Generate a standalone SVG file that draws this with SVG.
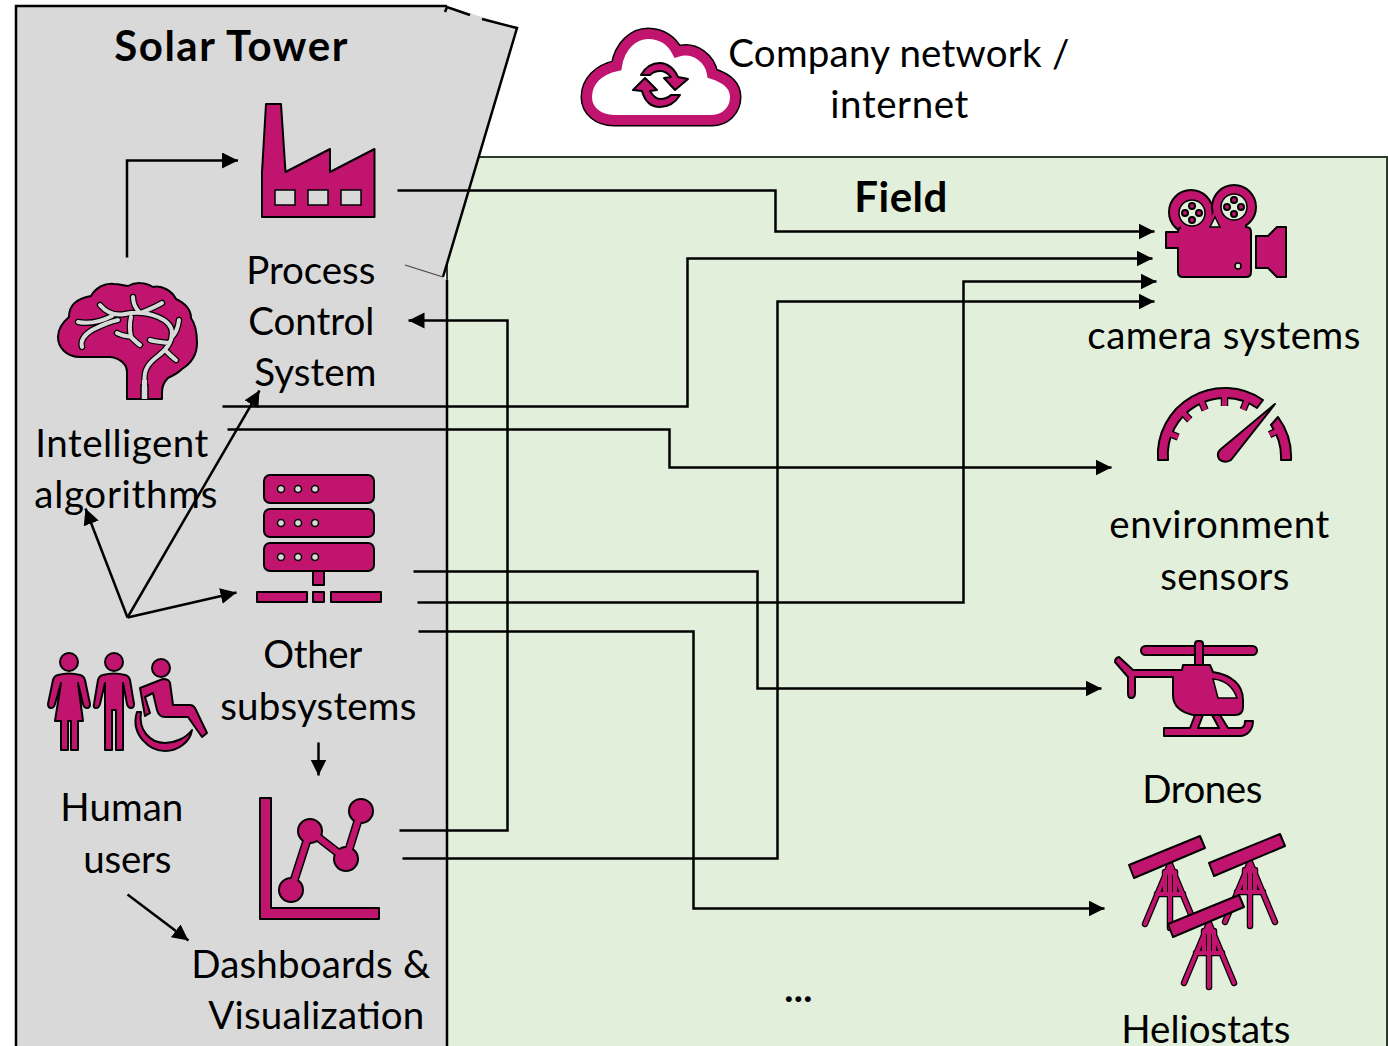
<svg xmlns="http://www.w3.org/2000/svg" width="1388" height="1046" viewBox="0 0 1388 1046">
<style>
.t{font-family:"Lato","Carlito","Liberation Sans",sans-serif;font-size:38.500px;fill:#000;transform:translate(-0.7px,0.8px)}
.b{font-weight:700;font-size:42px}
.i{fill:#C0146E;stroke:#000;stroke-width:2;stroke-linejoin:round}
.l{fill:#D9D9D9;stroke:#000;stroke-width:1.5}
.g{fill:#E2EFDA;stroke:#000;stroke-width:1.5}
.c{fill:none;stroke:#000;stroke-width:2.5}
.vb{fill:none;stroke:#000;stroke-width:6.500;stroke-linecap:round;stroke-linejoin:round}
.vg{fill:none;stroke:#D9D9D9;stroke-width:4;stroke-linecap:round;stroke-linejoin:round}
</style>
<defs>
<marker id="a" markerUnits="userSpaceOnUse" markerWidth="18" markerHeight="18" refX="16" refY="8" orient="auto"><path d="M0,0L16,8L0,16Z" fill="#000"/></marker>
<g id="helio">
<path d="M0,0L-25,60M0,0L25,60M0,0L0,64M-13,30L13,30M-5,8L-5,30M5,8L5,30" fill="none" stroke="#000" stroke-width="6.500" stroke-linecap="round"/>
<path d="M0,0L-25,60M0,0L25,60M0,0L0,64M-13,30L13,30M-5,8L-5,30M5,8L5,30" fill="none" stroke="#C0146E" stroke-width="4" stroke-linecap="round"/>
<path class="i" d="M-41,1L30,-28L35,-16L-36,14Z"/>
</g>
<path id="veins" d="M144.500,396V378C144.500,368 150,362 158,356C166,350 172,342 172,333C172,325 165,320 158,317C148,313 135,312 125,314C115,316 106,312 100,305M78,322C88,324 100,322 112,316M82,347C80,340 84,335 92,330C100,326 108,322 118,320M133,297C133,305 137,310 140,313C148,310 155,307 162,303M131,317C129,325 130,332 131,337C134,340 137,343 140,345M117,333C122,336 127,336 131,337M179,320C178,328 176,333 172,337M150,340C156,342 163,342 169,343M165,350C169,354 172,357 176,360"/>
<path id="ticks" d="M1169,433.300L1178.200,437.100M1183,412.700L1189.800,419.900M1201.200,400.700L1205.100,410M1224.500,396V406M1246.900,400.300L1243.200,409.600M1278.700,430.300L1269.600,434.600"/>
</defs>
<g id="field"><path d="M447,157H1387V1060H447Z" fill="#E2EFDA" stroke="#2b3a2b" stroke-width="2"/></g>
<g id="solar-tower">
<path d="M16,6H447L517,28L443,277L447,280V1060H16Z" fill="#D9D9D9"/>
<path d="M447,280V1060M16,1060V6H447M445,12L447,7L470,15M482,19L517,28L443,277" fill="none" stroke="#000" stroke-width="2.500"/>
<path d="M405,265L443,277" fill="none" stroke="#444" stroke-width="1.200"/>
<text class="t b" x="115" y="60" textLength="233">Solar Tower</text>
</g>
<g id="company-network">
<path d="M614,120C598,120 587,110 587,97C587,82 598,70 617,66C620,46 634,34 648,34C662,34 672,42 677,52C695,46 710,60 712,74C725,78 735,85 735,97C735,110 725,120 712,120Z" fill="#fff" stroke="#000" stroke-width="13"/>
<path d="M614,120C598,120 587,110 587,97C587,82 598,70 617,66C620,46 634,34 648,34C662,34 672,42 677,52C695,46 710,60 712,74C725,78 735,85 735,97C735,110 725,120 712,120Z" fill="#fff" stroke="#C0146E" stroke-width="10"/>
<path class="i" stroke-width="1.500" d="M641,75C646,66 653,63 660,63C667,63 674,68 678,77L688,79L675,90L664,78L671,77C667,72 664,71 660,71C655,71 652,73 650,75Z"/>
<path class="i" stroke-width="1.500" d="M680,95C675,103 668,107 660,107C652,107 645,102 642,91L633,90L645,78L657,90L650,91C653,96 656,99 660,99C665,99 669,97 671,95Z"/>
<text class="t" x="729" y="66" textLength="341">Company network /</text>
<text class="t" x="831" y="117" textLength="138">internet</text>
</g>
<g id="process-control">
<path class="i" d="M266,104H281L285.500,172L330,149V172L374.500,149V217H262V172Z"/>
<path class="l" d="M275,190h20v15h-20zM308,190h20v15h-20zM341,190h20v15h-20z"/>
<text class="t" x="247" y="283" textLength="129">Process</text>
<text class="t" x="249" y="334" textLength="126">Control</text>
<text class="t" x="255" y="385" textLength="122">System</text>
</g>
<g id="intelligent-algorithms">
<path class="i" d="M127,399V372C127,364 120,358 110,357H80C66,357 58,347 58,337C58,328 63,322 69,317C69,305 76,299 91,296C96,287 105,283 114,284C120,284 125,286 128,286C135,282 145,282 153,287C162,285 172,291 176,299C185,303 191,310 191,318C196,325 197,335 197,343C197,355 190,364 182,369C177,374 172,376 168,378C164,382 162,386 162,392V399Z"/>
<use href="#veins" class="vb"/>
<use href="#veins" class="vg"/>
<path d="M141,399V385H148V399" fill="#D9D9D9" stroke="#000" stroke-width="1.500"/>
<path d="M144.500,399V380" stroke="#D9D9D9" stroke-width="5"/>
<text class="t" x="36" y="456" textLength="173">Intelligent</text>
<text class="t" x="35" y="507" textLength="183">algorithms</text>
</g>
<g id="other-subsystems">
<rect class="i" x="264" y="475" width="110" height="28" rx="6"/>
<rect class="i" x="264" y="509" width="110" height="28" rx="6"/>
<rect class="i" x="264" y="543" width="110" height="28" rx="6"/>
<g class="l"><circle cx="281" cy="489" r="3.500"/><circle cx="298" cy="489" r="3.500"/><circle cx="315" cy="489" r="3.500"/><circle cx="281" cy="523" r="3.500"/><circle cx="298" cy="523" r="3.500"/><circle cx="315" cy="523" r="3.500"/><circle cx="281" cy="557" r="3.500"/><circle cx="298" cy="557" r="3.500"/><circle cx="315" cy="557" r="3.500"/></g>
<path class="i" d="M313,571h11v14h-11zM257,592h50v10h-50zM313,592h11v10h-11zM331,592h50v10h-50z"/>
<text class="t" x="264" y="667" textLength="99">Other</text>
<text class="t" x="221" y="719" textLength="196">subsystems</text>
</g>
<g id="human-users">
<circle class="i" cx="69" cy="662" r="9"/>
<path class="i" d="M58,675Q69,672 80,675Q84,676 85,680L90,704Q90,708 87,708Q84,708 83,704L78,683L83,721H78V750H71V721H68V750H61V721H55L61,683L55,704Q54,708 51,708Q48,708 48,704L53,680Q54,676 58,675Z"/>
<circle class="i" cx="114" cy="662" r="9"/>
<path class="i" d="M103,675Q114,672 125,675Q129,676 130,680L134,704Q134,708 131,708Q128,708 127,704L123,683V750H116V710H112V750H105V683L100,704Q99,708 96,708Q93,708 94,704L98,680Q99,676 103,675Z"/>
<circle class="i" cx="161" cy="668" r="9"/>
<path class="i" d="M140,688L163,679Q169,679 170,683L173,705H190Q193,705 195,708L207,733L202,737L188,717H165Q159,717 157,710L153,693L145,697L150,713L145,716Z"/>
<path class="i" d="M137,712C130,735 150,751 165,751C178,751 190,742 192,730C186,738 175,743 165,743C150,743 138,730 141,712Z"/>
<text class="t" x="61" y="820" textLength="123">Human</text>
<text class="t" x="84" y="872" textLength="88">users</text>
</g>
<g id="dashboards">
<path class="i" d="M260,798H271V908H379V919H260Z"/>
<path d="M291,890L310,831L346,859L361,811" fill="none" stroke="#000" stroke-width="9"/>
<circle class="i" cx="291" cy="890" r="12"/><circle class="i" cx="310" cy="831" r="12"/><circle class="i" cx="346" cy="859" r="12"/><circle class="i" cx="361" cy="811" r="12"/>
<path d="M291,890L310,831L346,859L361,811" fill="none" stroke="#C0146E" stroke-width="6"/>
<text class="t" x="192" y="977" textLength="239">Dashboards &amp;</text>
<text class="t" x="209" y="1028" textLength="216">Visualization</text>
</g>
<g id="field-label"><text class="t b" x="855" y="211" textLength="93">Field</text></g>
<g id="camera-systems">
<circle class="i" cx="1191" cy="212" r="22"/><circle class="i" cx="1234" cy="207" r="22"/>
<path class="i" d="M1183,227H1246Q1251,227 1251,232V272Q1251,277 1246,277H1183Q1178,277 1178,272V248H1166V232H1178Q1178,227 1183,227Z"/>
<path d="M1181,224H1196L1209,220L1214,212H1216L1222,222L1245,224V229H1181Z" fill="#C0146E"/>
<path class="l" d="M1215,217L1210,227H1220Z" style="fill:#E2EFDA"/>
<path class="i" d="M1256,236H1268L1277,227H1286V277H1277L1268,268H1256Z"/>
<circle class="g" cx="1192" cy="213" r="13"/><circle class="g" cx="1234" cy="207" r="13"/>
<g class="i" stroke-width="1"><circle cx="1192" cy="206" r="3"/><circle cx="1192" cy="220" r="3"/><circle cx="1185" cy="213" r="3"/><circle cx="1199" cy="213" r="3"/><circle cx="1234" cy="200" r="3"/><circle cx="1234" cy="214" r="3"/><circle cx="1227" cy="207" r="3"/><circle cx="1241" cy="207" r="3"/></g>
<circle class="g" cx="1238" cy="266" r="3"/>
<text class="t" x="1088" y="348" textLength="273">camera systems</text>
</g>
<g id="environment-sensors">
<use href="#ticks" fill="none" stroke="#000" stroke-width="7.500"/>
<path class="i" d="M1158,460A67,67 0 0 1 1263,400L1257,408A57,57 0 0 0 1168,460Z"/>
<path class="i" d="M1278,417A67,67 0 0 1 1291,460H1281A57,57 0 0 0 1271,425Z"/>
<use href="#ticks" fill="none" stroke="#C0146E" stroke-width="5"/>
<path class="i" d="M1275,404L1231,460Q1224,464 1219,459Q1216,453 1221,449Z"/>
<text class="t" x="1110" y="537" textLength="220">environment</text>
<text class="t" x="1161" y="589" textLength="129">sensors</text>
</g>
<g id="drones">
<rect class="i" x="1141" y="646" width="116" height="9" rx="4.500"/>
<rect class="i" x="1195" y="641" width="8" height="26" rx="3"/>
<path class="i" d="M1183,665H1210L1213,672C1232,675 1243,685 1243,700V707Q1243,715 1235,715H1193C1180,712 1173,705 1173,695V677H1135V693Q1135,698 1131,698Q1128,698 1128,693V677L1115,662Q1115,658 1119,657L1133,670H1182Z"/>
<path class="g" d="M1213,679C1225,680 1233,687 1237,698H1218Z"/>
<path class="i" d="M1164,728H1190L1195,715H1203L1198,728H1219L1212,715H1220L1228,728H1240C1244,728 1245,725 1245,721H1253C1253,730 1247,736 1240,736H1164Z"/>
<text class="t" x="1143" y="802" textLength="120">Drones</text>
</g>
<g id="heliostats">
<use href="#helio" x="1170" y="864"/>
<use href="#helio" x="1250" y="862"/>
<use href="#helio" x="1209" y="923"/>
<text class="t" x="1122" y="1042" textLength="169">Heliostats</text>
</g>
<g id="ellipsis"><text class="t" x="785" y="1001" textLength="28" font-weight="700">...</text></g>
<g id="connectors" transform="translate(0.5,0.5)">
<path class="c" marker-end="url(#a)" d="M126.500,257V160H237.500"/>
<path class="c" marker-end="url(#a)" d="M397,190H775V231H1154"/>
<path class="c" marker-end="url(#a)" d="M222,406H687V258H1152"/>
<path class="c" marker-end="url(#a)" d="M227,429H669V467H1111"/>
<path class="c" marker-end="url(#a)" d="M413,571H757V688H1101"/>
<path class="c" marker-end="url(#a)" d="M417,602H963V281H1156"/>
<path class="c" marker-end="url(#a)" d="M418,631H693V908H1104"/>
<path class="c" marker-end="url(#a)" d="M399,830H507V320H408"/>
<path class="c" marker-end="url(#a)" d="M402,858H777V301H1154"/>
<path class="c" marker-end="url(#a)" d="M127,617L85,508"/>
<path class="c" marker-end="url(#a)" d="M127,617L259,390"/>
<path class="c" marker-end="url(#a)" d="M127,617L236,592"/>
<path class="c" marker-end="url(#a)" d="M318,742V775"/>
<path class="c" marker-end="url(#a)" d="M127,894L188,940"/>
</g>
</svg>
